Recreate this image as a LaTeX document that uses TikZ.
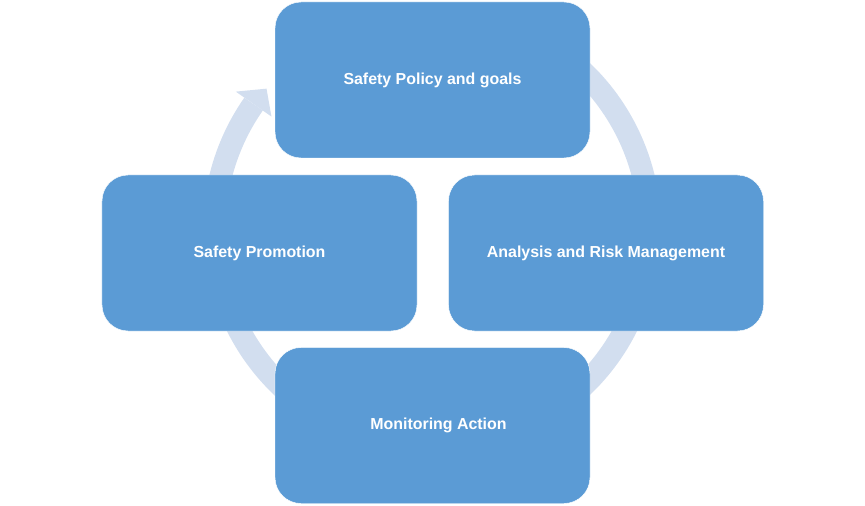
\documentclass[tikz,border=0pt]{standalone}
\usepackage{fontspec}
\setmainfont{Liberation Sans}
\usepackage{tikz}
\usetikzlibrary{positioning}
\definecolor{fasecol}{HTML}{5B9BD5}
\definecolor{anellocol}{HTML}{D2DEEF}

\begin{document}
\begin{tikzpicture}[x=0.3mm, y=0.3mm]
    % Stili
    \tikzset{
        fase/.style={rectangle, rounded corners=7.8mm, draw=white, line width=0.4pt, fill=fasecol, minimum width=9.45cm, minimum height=4.68cm, text centered, text=white, font=\fontsize{13.6}{16}\selectfont\bfseries},
        anello/.style={draw=anellocol, line width=6.75mm},
        punta/.style={fill=anellocol}
    }
    \useasboundingbox (0,0) rectangle (865,505);
    
    % Anello con freccia
    \coordinate (centro) at (432,276);
    \draw[anello] ([shift={(70:217.8)}]centro) arc[start angle=70, end angle=-215, radius=217.8];
    \fill[punta] ([shift={(145:196)}]centro) -- ([shift={(139.7:217)}]centro) -- ([shift={(145:239.5)}]centro) -- cycle;
    
    % Fasi del ciclo
    \node[fase] (politica) at (432.5,425) {Safety Policy and goals};
    \node[fase] (analisi) at (606,252) {Analysis and Risk Management};
    \node[fase] (monitoraggio) at (432.5,79.5) {\hspace*{3.6mm}Monitoring Action};
    \node[fase] (promozione) at (259.5,252) {Safety Promotion};
    
\end{tikzpicture}
\end{document}
